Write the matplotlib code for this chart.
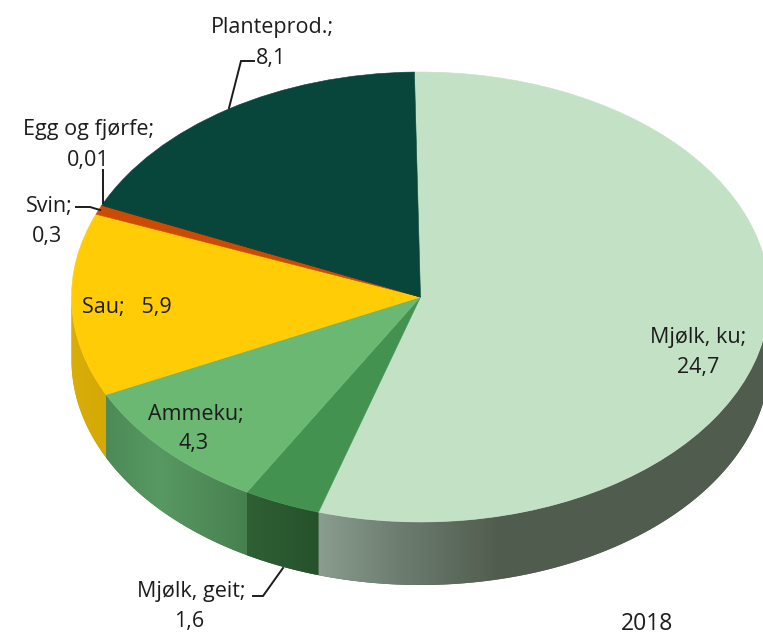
import numpy as np
import matplotlib
matplotlib.use("Agg")
import matplotlib.pyplot as plt
from matplotlib.colors import to_rgb
from matplotlib.patches import Polygon

categories = ["Mjølk, ku", "Mjølk, geit", "Ammeku", "Sau", "Svin", "Egg og fjørfe", "Planteprod."]
values = [24.7, 1.6, 4.3, 5.9, 0.3, 0.01, 8.1]
value_labels = ["24,7", "1,6", "4,3", "5,9", "0,3", "0,01", "8,1"]
year_label = "2018"
top_colors = ["#c3e2c5", "#43924f", "#6bb873", "#ffcc05", "#cc4a03", "#7a3a10", "#08453a"]
# wall shade stops: (pixel x, colour)
wall_stops = [
    [(318, "#8a9d8e"), (400, "#6c7d6f"), (500, "#505c4e"), (770, "#505c4e")],
    [(248, "#2f5f35"), (318, "#26522b")],
    [(105, "#4c8a57"), (160, "#589862"), (248, "#47804f")],
    [(70, "#d9ae08"), (106, "#d4a906")],
]

W, H = 763, 636
CX, CY, RX, RY, DEPTH = 420.5, 297, 349, 225, 63
START = 91.0

plt.rcParams["font.family"] = ["Open Sans", "DejaVu Sans"]
fig = plt.figure(figsize=(W / 100, H / 100), dpi=100)
ax = fig.add_axes([0, 0, 1, 1])
wedges, _ = ax.pie(values, colors=top_colors, startangle=START, counterclock=False, radius=1,
                   wedgeprops=dict(linewidth=0.4, antialiased=True, zorder=3))
for w in wedges:
    w.set_edgecolor(w.get_facecolor())
ax.axis("off")
x0, x1 = -CX / RX, (W - CX) / RX
y0, y1 = (CY - H) / RY, CY / RY


def px(x, y):
    return (x - CX) / RX, (CY - y) / RY


# side wall, sliced from the same values as the pie; only the front half shows
angles = START - np.cumsum([0] + values) / sum(values) * 360
d = DEPTH / RY
grid_px = np.arange(W) + 0.5
for i, stops in enumerate(wall_stops):
    hi, lo = min(angles[i], 0.0), max(angles[i + 1], -180.0)
    th = np.radians(np.linspace(hi, lo, 200))
    xs, ys = np.cos(th), np.sin(th)
    outline = np.r_[np.c_[xs, ys], np.c_[xs[::-1], ys[::-1] - d]]
    sx = [s[0] for s in stops]
    sc = np.array([to_rgb(s[1]) for s in stops])
    grad = np.stack([np.interp(grid_px, sx, sc[:, k]) for k in range(3)], axis=-1)[None, :, :]
    # soft-edged solid base, then the horizontal shading clipped to the same outline
    base = Polygon(outline, closed=True, facecolor=sc[-1] if i else sc[2], edgecolor="none", zorder=1.5)
    ax.add_patch(base)
    im = ax.imshow(grad, extent=(x0, x1, y0, y1), aspect="auto", interpolation="nearest", zorder=2)
    clip = Polygon(outline, closed=True, transform=ax.transData)
    im.set_clip_path(clip)

ax.set_aspect("auto")
ax.set_xlim(x0, x1)
ax.set_ylim(y0, y1)

TXT = "#1c1c1c"
FS = 15.5


def label(x, y, s, size=FS):
    ax.text(*px(x, y + 2), s, ha="center", va="center", fontsize=size, color=TXT, zorder=5)


label(272, 25, categories[6] + ";")
label(271, 56, value_labels[6])
label(89, 127, categories[5] + ";")
label(88, 158, value_labels[5])
label(49, 204, categories[4] + ";")
label(47, 234, value_labels[4])
label(127, 305, categories[3] + ";   " + value_labels[3])
label(196, 412, categories[2] + ";")
label(194, 442, value_labels[2])
label(698, 335, categories[0] + ";")
label(698, 365, value_labels[0])
label(191, 590, categories[1] + ";")
label(189, 620, value_labels[1])
label(647, 622, year_label, size=16.5)

leaders = [
    [(229, 108), (241, 61), (254, 61)],
    [(103, 170), (103, 203)],
    [(76, 207), (90, 207), (100, 210)],
    [(253, 596), (263, 596), (283, 568)],
]
for pts in leaders:
    q = np.array([px(*p) for p in pts])
    ax.plot(q[:, 0], q[:, 1], color="#1c1c1c", lw=1.4, zorder=6, solid_joinstyle="miter")

fig.savefig("out.png", dpi=100, facecolor="white")
